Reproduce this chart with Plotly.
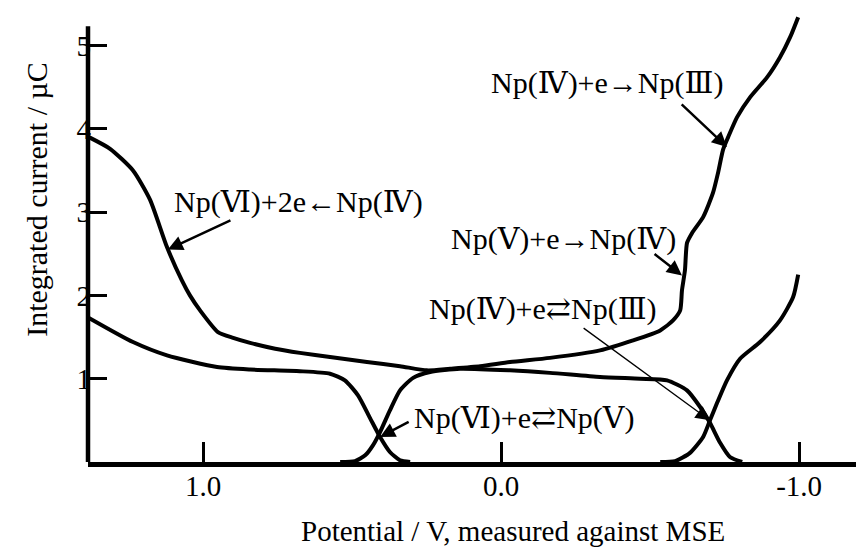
import plotly.graph_objects as go

# ---- data (potential in V vs MSE, integrated current in uC) ----
curve_a_x = [1.383, 1.312, 1.235, 1.178, 1.121, 1.071, 1.044, 1.010, 0.950, 0.899, 0.842, 0.758, 0.675, 0.574, 0.450, 0.339,
             0.248, 0.171, 0.070, -0.030, -0.164, -0.332, -0.443, -0.534, -0.577, -0.601, -0.607, -0.617,
             -0.624, -0.641, -0.678, -0.711, -0.728, -0.745, -0.762, -0.792, -0.836, -0.893, -0.936, -0.970, -0.997]
curve_a_y = [3.90, 3.76, 3.50, 3.15, 2.58, 2.18, 2.00, 1.82, 1.56, 1.49, 1.43, 1.36, 1.31, 1.26, 1.20, 1.15,
             1.10, 1.12, 1.15, 1.20, 1.25, 1.34, 1.46, 1.58, 1.70, 1.82, 2.06, 2.30,
             2.63, 2.75, 2.94, 3.23, 3.47, 3.75, 3.90, 4.14, 4.38, 4.62, 4.86, 5.10, 5.34]

curve_b_x = [1.383, 1.235, 1.121, 0.953, 0.842, 0.675, 0.574, 0.524, 0.480, 0.440, 0.406, 0.373, 0.339, 0.305]
curve_b_y = [1.73, 1.44, 1.28, 1.14, 1.11, 1.09, 1.06, 0.98, 0.80, 0.53, 0.30, 0.12, 0.02, 0.0]

curve_c_x = [0.540, 0.490, 0.456, 0.430, 0.406, 0.373, 0.339, 0.295, 0.238, 0.138, -0.030, -0.164, -0.332,
             -0.466, -0.557, -0.624, -0.668, -0.701, -0.735, -0.768, -0.809]
curve_c_y = [0.0, 0.01, 0.08, 0.20, 0.36, 0.62, 0.86, 1.01, 1.08, 1.12, 1.10, 1.07, 1.02,
             1.00, 0.98, 0.86, 0.66, 0.47, 0.23, 0.06, 0.0]

curve_d_x = [-0.534, -0.584, -0.634, -0.678, -0.701, -0.725, -0.758, -0.802, -0.869, -0.936, -0.980, -0.997]
curve_d_y = [0.0, 0.01, 0.11, 0.30, 0.50, 0.71, 0.98, 1.24, 1.44, 1.70, 1.98, 2.25]

x_tick_vals = [1.0, 0.0, -1.0]
x_tick_text = ["1.0", "0.0", "-1.0"]
y_tick_vals = [1, 2, 3, 4, 5]
y_tick_text = ["1", "2", "3", "4", "5"]

labels = ["Np(Ⅵ)+2e←Np(Ⅳ)", "Np(Ⅳ)+e→Np(Ⅲ)", "Np(Ⅴ)+e→Np(Ⅳ)", "Np(Ⅳ)+e⇄Np(Ⅲ)", "Np(Ⅵ)+e⇄Np(Ⅴ)"]
label_x = [0.681, -0.356, -0.208, -0.141, -0.077]
label_y = [3.12, 4.55, 2.68, 1.84, 0.53]
arrow_tail_x = [0.903, -0.601, -0.510, -0.272, 0.305]
arrow_tail_y = [2.91, 4.31, 2.51, 1.62, 0.49]
arrow_tip_x = [1.118, -0.758, -0.607, -0.701, 0.406]
arrow_tip_y = [2.55, 3.78, 2.24, 0.50, 0.30]
arrow_widths = [2.5, 2.5, 2.5, 1.3, 2.5]

FONT = "Liberation Serif, DejaVu Serif"

fig = go.Figure()
for xs, ys in [(curve_a_x, curve_a_y), (curve_b_x, curve_b_y), (curve_c_x, curve_c_y), (curve_d_x, curve_d_y)]:
    fig.add_trace(go.Scatter(x=xs, y=ys, mode="lines",
                             line=dict(color="black", width=4, shape="spline", smoothing=0.6),
                             showlegend=False, hoverinfo="skip"))

annotations = []
for t, lx, ly in zip(labels, label_x, label_y):
    annotations.append(dict(x=lx, y=ly, xref="x", yref="y", text=t, showarrow=False,
                            xanchor="center", yanchor="middle",
                            font=dict(family=FONT, size=30, color="black")))
for tx, ty, hx, hy, w in zip(arrow_tail_x, arrow_tail_y, arrow_tip_x, arrow_tip_y, arrow_widths):
    annotations.append(dict(x=hx, y=hy, xref="x", yref="y", ax=tx, ay=ty, axref="x", ayref="y",
                            text=" ", showarrow=True, arrowhead=2, arrowsize=1.2 if w > 2 else 2.2,
                            arrowwidth=w, arrowcolor="black", standoff=0, startstandoff=0,
                            font=dict(size=1)))
annotations.append(dict(x=-0.040, y=-0.153, xref="x", yref="paper",
                        text="Potential / V, measured against MSE", showarrow=False,
                        xanchor="center", yanchor="middle",
                        font=dict(family=FONT, size=29, color="black")))
annotations.append(dict(x=-0.0664, y=0.580, xref="paper", yref="paper",
                        text="Integrated current / µC", showarrow=False, textangle=-90,
                        xanchor="center", yanchor="middle",
                        font=dict(family=FONT, size=30, color="black")))

fig.update_layout(
    width=856, height=552,
    margin=dict(l=88, r=0, t=10, b=90),
    paper_bgcolor="white", plot_bgcolor="white",
    font=dict(family=FONT, color="black"),
    annotations=annotations,
    shapes=[dict(type="line", xref="paper", yref="y", x0=0, x1=0, y0=0, y1=5.23,
                 line=dict(color="black", width=4.5))],
    xaxis=dict(range=[1.386, -1.191], showgrid=False, zeroline=False,
               showline=True, linecolor="black", linewidth=4.5,
               ticks="inside", ticklen=20, tickwidth=3, tickcolor="black",
               ticklabelstandoff=-6,
               tickvals=x_tick_vals, ticktext=x_tick_text,
               tickfont=dict(family=FONT, size=29, color="black")),
    yaxis=dict(range=[0, 5.426], showgrid=False, zeroline=False, showline=False,
               ticks="inside", ticklen=19, tickwidth=3, tickcolor="black",
               ticklabelstandoff=-4,
               tickvals=y_tick_vals, ticktext=y_tick_text,
               tickfont=dict(family=FONT, size=29, color="black")),
)

fig.write_html("out.html")
